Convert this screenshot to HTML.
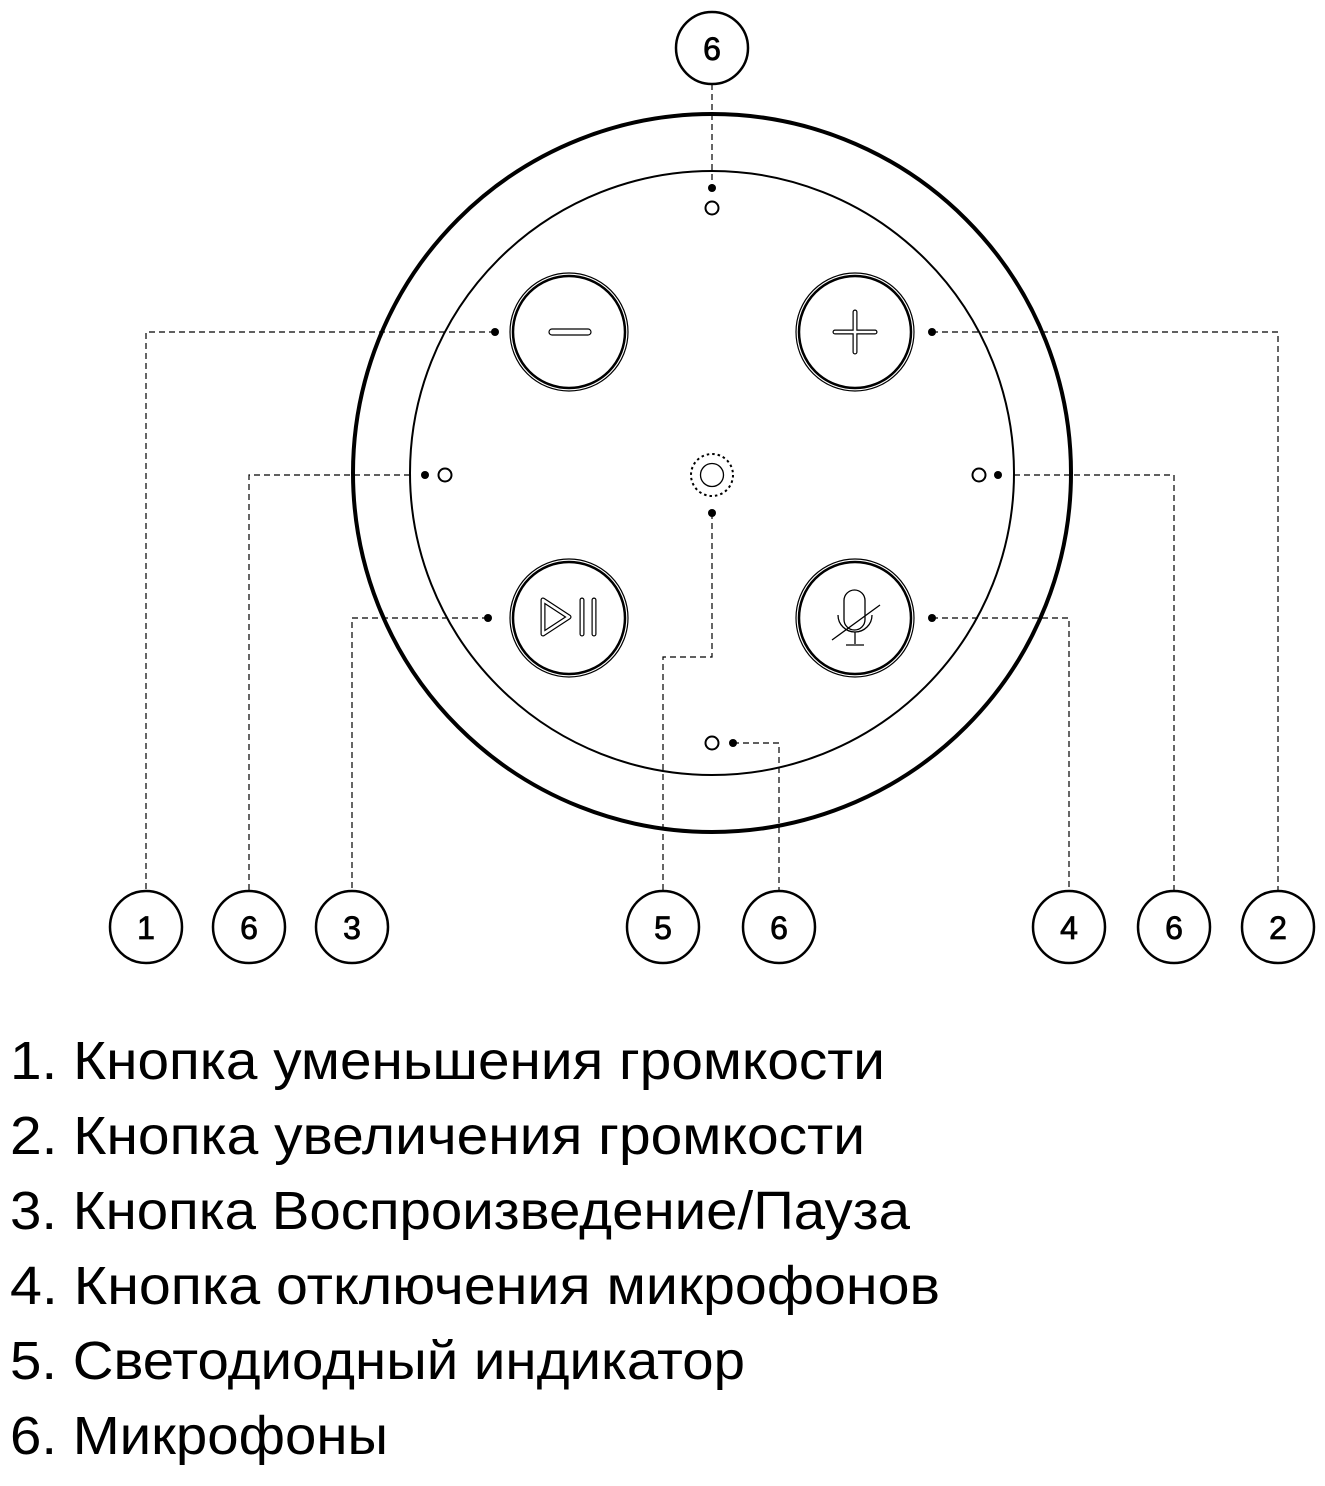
<!DOCTYPE html>
<html><head><meta charset="utf-8"><style>html,body{margin:0;padding:0;background:#fff}svg{display:block}</style></head>
<body>
<svg width="1325" height="1486" viewBox="0 0 1325 1486" xmlns="http://www.w3.org/2000/svg" font-family="Liberation Sans, sans-serif">
<g fill="none" stroke="#000">
<circle cx="712" cy="473" r="359" stroke-width="4"/>
<circle cx="712" cy="473" r="302" stroke-width="2"/>
<g>
<circle cx="569" cy="332" r="59" stroke-width="1.2"/><circle cx="569" cy="332" r="56" stroke-width="2.5"/>
<circle cx="855" cy="332" r="59" stroke-width="1.2"/><circle cx="855" cy="332" r="56" stroke-width="2.5"/>
<circle cx="569" cy="618" r="59" stroke-width="1.2"/><circle cx="569" cy="618" r="56" stroke-width="2.5"/>
<circle cx="855" cy="618" r="59" stroke-width="1.2"/><circle cx="855" cy="618" r="56" stroke-width="2.5"/>
</g>
<rect x="549" y="329" width="42" height="6" rx="3" stroke-width="1.2"/>
<path d="M855 312 v40 M835 332 h40" stroke-width="5" stroke-linecap="round"/>
<path d="M855 312 v40 M835 332 h40" stroke="#fff" stroke-width="2.6" stroke-linecap="round"/>
<path d="M543 600 v34 l26 -17 z" stroke-width="5" stroke-linejoin="round"/>
<path d="M543 600 v34 l26 -17 z" stroke="#fff" stroke-width="2.6" stroke-linejoin="round"/>
<path d="M582 600 v34 M594 600 v34" stroke-width="5" stroke-linecap="round"/>
<path d="M582 600 v34 M594 600 v34" stroke="#fff" stroke-width="2.6" stroke-linecap="round"/>
<g stroke-width="1.3">
<rect x="844" y="590" width="21" height="40" rx="10.5"/>
<path d="M838 615 a17 17 0 0 0 34 0 M855 632 v12 M846 645 h18"/>
<path d="M832 640 L880 605"/>
</g>
<circle cx="712" cy="475" r="21" stroke-width="2" stroke-dasharray="2.5 3"/>
<circle cx="712" cy="475" r="11.5" stroke-width="1.3"/>
<circle cx="712" cy="208" r="6.5" stroke-width="2"/>
<circle cx="445" cy="475" r="6.5" stroke-width="2"/>
<circle cx="979" cy="475" r="6.5" stroke-width="2"/>
<circle cx="712" cy="743" r="6.5" stroke-width="2"/>
<g stroke-width="1.2" stroke-dasharray="6 4">
<path d="M495 332 H146 V891"/>
<path d="M410 475 H249 V891"/>
<path d="M488 618 H352 V891"/>
<path d="M712 513 V657 H663 V891"/>
<path d="M733 743 H779 V891"/>
<path d="M932 618 H1069 V891"/>
<path d="M1014 475 H1174 V891"/>
<path d="M932 332 H1278 V891"/>
<path d="M712 84 V188"/>
</g>
<g stroke-width="2.5">
<circle cx="712" cy="48" r="36"/>
<circle cx="146" cy="927" r="36"/><circle cx="249" cy="927" r="36"/><circle cx="352" cy="927" r="36"/>
<circle cx="663" cy="927" r="36"/><circle cx="779" cy="927" r="36"/>
<circle cx="1069" cy="927" r="36"/><circle cx="1174" cy="927" r="36"/><circle cx="1278" cy="927" r="36"/>
</g>
</g>
<g fill="#000">
<circle cx="495" cy="332" r="4"/><circle cx="932" cy="332" r="4"/>
<circle cx="488" cy="618" r="4"/><circle cx="932" cy="618" r="4"/>
<circle cx="712" cy="513" r="4"/><circle cx="712" cy="188" r="4"/>
<circle cx="425" cy="475" r="4"/><circle cx="998" cy="475" r="4"/>
<circle cx="733" cy="743" r="4"/>
</g>
<g font-size="32" text-anchor="middle" fill="#000" stroke="#000" stroke-width="0.8">
<text x="712" y="60">6</text>
<text x="146" y="939">1</text><text x="249" y="939">6</text><text x="352" y="939">3</text>
<text x="663" y="939">5</text><text x="779" y="939">6</text>
<text x="1069" y="939">4</text><text x="1174" y="939">6</text><text x="1278" y="939">2</text>
</g>
<g font-size="54" fill="#000">
<text x="10" y="1079" textLength="875" lengthAdjust="spacingAndGlyphs">1. Кнопка уменьшения громкости</text>
<text x="10" y="1154" textLength="855" lengthAdjust="spacingAndGlyphs">2. Кнопка увеличения громкости</text>
<text x="10" y="1229" textLength="900" lengthAdjust="spacingAndGlyphs">3. Кнопка Воспроизведение/Пауза</text>
<text x="10" y="1304" textLength="930" lengthAdjust="spacingAndGlyphs">4. Кнопка отключения микрофонов</text>
<text x="10" y="1379" textLength="735" lengthAdjust="spacingAndGlyphs">5. Светодиодный индикатор</text>
<text x="10" y="1454" textLength="378" lengthAdjust="spacingAndGlyphs">6. Микрофоны</text>
</g>
</svg>
</body></html>
